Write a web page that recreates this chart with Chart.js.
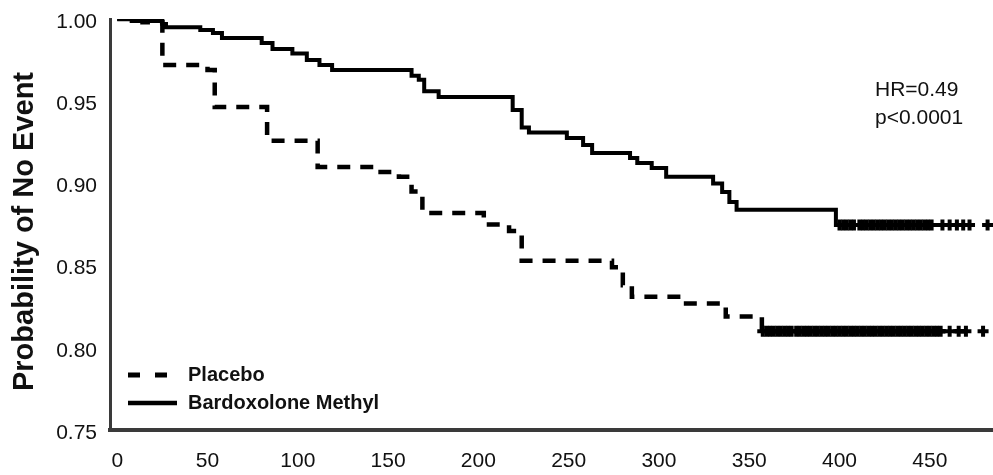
<!DOCTYPE html>
<html><head><meta charset="utf-8">
<script src="https://cdn.jsdelivr.net/npm/chart.js@4.4.1/dist/chart.umd.min.js"></script>
<style>html,body{margin:0;padding:0;background:#fff;}</style>
</head><body>
<canvas id="c" width="993" height="475"></canvas>
<script>
// ---- data ----
const seriesNames = ['Placebo', 'Bardoxolone Methyl'];
const placeboTimes = [0, 14, 25, 50, 54, 83, 111, 144, 156, 163, 169, 203, 217, 224, 274, 280, 285, 313, 337, 357, 470];
const placeboSurv  = [1.000, 0.998, 0.972, 0.969, 0.9465, 0.926, 0.910, 0.907, 0.904, 0.895, 0.882, 0.875, 0.871, 0.853, 0.849, 0.838, 0.831, 0.827, 0.819, 0.810, 0.810];
const bardTimes = [0, 8, 25, 27, 46, 53, 58, 80, 86, 97, 105, 112, 119, 163, 167, 170, 178, 219, 224, 228, 249, 258, 263, 284, 288, 296, 304, 330, 335, 339, 343, 398, 472];
const bardSurv  = [1.000, 0.9988, 0.997, 0.995, 0.9933, 0.9915, 0.9884, 0.9854, 0.9818, 0.979, 0.975, 0.972, 0.969, 0.9655, 0.963, 0.956, 0.9526, 0.9446, 0.934, 0.931, 0.9276, 0.9234, 0.9185, 0.9155, 0.9124, 0.9094, 0.904, 0.900, 0.8948, 0.8887, 0.884, 0.8747, 0.8747];
const placeboCensor = [357.5, 359.5, 361.5, 363.5, 365.5, 367.5, 369.5, 371.5, 373.5, 376, 378, 380, 382, 384, 386, 388, 390, 392, 394, 396, 398, 400, 402, 404, 406, 408, 410, 412, 414, 416, 418, 420, 422, 424, 426, 428, 430, 432, 434, 436, 438, 440, 442, 444, 446, 448, 450, 452, 454, 456, 461, 466, 470, 479.5];
const bardCensor = [400, 402, 404, 406, 408, 411, 413, 415, 417, 419, 421, 423, 425, 427, 429, 431, 433, 435, 437, 439, 441, 443, 445, 447, 449, 451, 457, 461, 465, 468.5, 472, 482];
const xTicks = [0, 50, 100, 150, 200, 250, 300, 350, 400, 450];
const yTicks = [0.75, 0.80, 0.85, 0.90, 0.95, 1.00];
const yTickLabels = ['0.75', '0.80', '0.85', '0.90', '0.95', '1.00'];
const yAxisTitle = 'Probability of No Event';
const annotationLines = ['HR=0.49', 'p<0.0001'];

// ---- helpers ----
const toXY = (ts, ss) => ts.map((t, i) => ({x: t, y: ss[i]}));
function survAt(ts, ss, t) { let v = ss[0]; for (let i = 0; i < ts.length; i++) { if (ts[i] <= t) v = ss[i]; } return v; }
const censorXY = (cs, ts, ss) => cs.map(t => ({x: t, y: survAt(ts, ss, t)}));

const FONT = "'Liberation Sans', Arial, Helvetica, sans-serif";

const overlay = {
  id: 'overlay',
  afterDraw(chart) {
    const ctx = chart.ctx;
    ctx.save();
    // y axis title
    ctx.fillStyle = '#111';
    ctx.font = 'bold 29px ' + FONT;
    ctx.translate(33, 231.5);
    ctx.rotate(-Math.PI / 2);
    ctx.textAlign = 'center';
    ctx.textBaseline = 'alphabetic';
    ctx.fillText(yAxisTitle, 0, 0);
    ctx.restore();

    // legend
    ctx.save();
    ctx.strokeStyle = '#000';
    ctx.lineCap = 'butt';
    ctx.lineWidth = 5;
    ctx.setLineDash([12, 15]);
    ctx.beginPath(); ctx.moveTo(128, 375); ctx.lineTo(168, 375); ctx.stroke();
    ctx.setLineDash([]);
    ctx.lineWidth = 4.5;
    ctx.beginPath(); ctx.moveTo(128, 403); ctx.lineTo(177, 403); ctx.stroke();
    ctx.fillStyle = '#111';
    ctx.font = 'bold 20px ' + FONT;
    ctx.textAlign = 'left';
    ctx.textBaseline = 'middle';
    ctx.fillText(seriesNames[0], 188, 375);
    ctx.fillText(seriesNames[1], 188, 403);

    // annotation
    ctx.font = '21px ' + FONT;
    ctx.fillText(annotationLines[0], 875, 90);
    ctx.fillText(annotationLines[1], 875, 118);
    ctx.restore();
  }
};

new Chart(document.getElementById('c'), {
  type: 'line',
  data: {
    datasets: [
      {label: seriesNames[0], data: toXY(placeboTimes, placeboSurv), stepped: 'before',
       borderColor: '#000', borderWidth: 4.5, borderDash: [13, 10], pointRadius: 0, fill: false},
      {label: seriesNames[1], data: toXY(bardTimes, bardSurv), stepped: 'before',
       borderColor: '#000', borderWidth: 4, pointRadius: 0, fill: false},
      {label: seriesNames[0] + ' censored', data: censorXY(placeboCensor, placeboTimes, placeboSurv), showLine: false,
       pointStyle: 'cross', pointRadius: 5.5, pointBorderWidth: 4, pointBorderColor: '#000', pointBackgroundColor: '#000', borderColor: '#000', clip: false},
      {label: seriesNames[1] + ' censored', data: censorXY(bardCensor, bardTimes, bardSurv), showLine: false,
       pointStyle: 'cross', pointRadius: 5.5, pointBorderWidth: 4, pointBorderColor: '#000', pointBackgroundColor: '#000', borderColor: '#000', clip: false}
    ]
  },
  options: {
    responsive: false,
    animation: false,
    events: [],
    devicePixelRatio: 1,
    layout: {autoPadding: false, padding: {top: 19, left: 0, right: 0, bottom: 0}},
    plugins: {legend: {display: false}, tooltip: {enabled: false}, title: {display: false}},
    scales: {
      x: {
        type: 'linear', min: -4, max: 485,
        grid: {display: false, drawTicks: false},
        border: {display: true, color: '#3a3a3a', width: 4},
        ticks: {padding: 19, color: '#111', font: {family: FONT, size: 21}, maxRotation: 0},
        afterBuildTicks: s => { s.ticks = xTicks.map(v => ({value: v})); },
        afterFit: s => { s.height = 45; s.paddingLeft = 0; s.paddingRight = 0; }
      },
      y: {
        type: 'linear', min: 0.75, max: 1.0,
        grid: {display: false, drawTicks: false},
        border: {display: true, color: '#3a3a3a', width: 3},
        ticks: {padding: 13, labelOffset: 3, color: '#111', font: {family: FONT, size: 21},
                callback: (v) => { const i = yTicks.findIndex(t => Math.abs(t - v) < 1e-6); return i >= 0 ? yTickLabels[i] : ''; }},
        afterBuildTicks: s => { s.ticks = yTicks.map(v => ({value: v})); },
        afterFit: s => { s.width = 110; s.paddingTop = 0; s.paddingBottom = 0; }
      }
    }
  },
  plugins: [overlay]
});
</script>
</body></html>
